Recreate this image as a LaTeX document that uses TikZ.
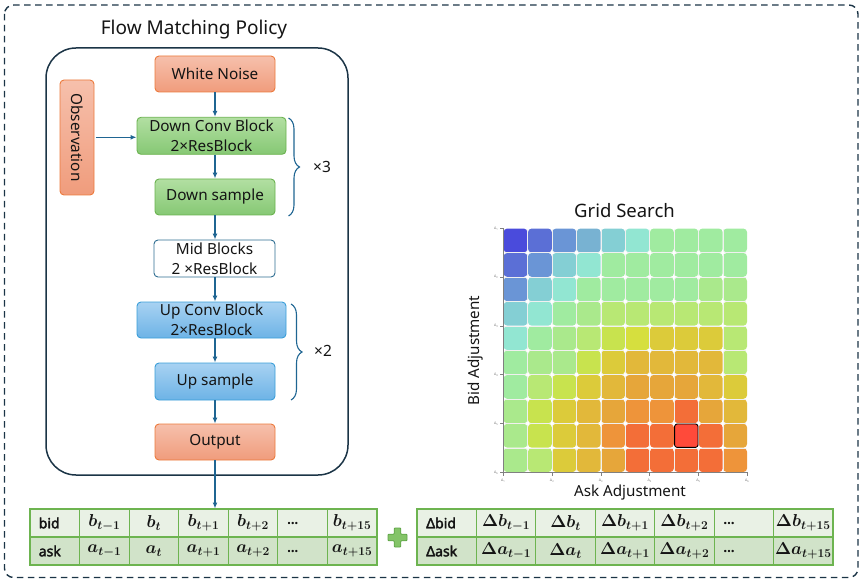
\documentclass[tikz,border=0pt]{standalone}
\usepackage[no-math]{fontspec}
\setmainfont{Noto Sans}
\newfontfamily\heavysans{Noto Sans}[FakeBold=2.6]
\usepackage{amsmath}
\usetikzlibrary{arrows.meta,decorations.pathreplacing}
\definecolor{navy}{HTML}{1B3446}
\definecolor{arr}{HTML}{1F6592}
\definecolor{txt}{HTML}{141414}
\definecolor{salT}{HTML}{F6C0AC}
\definecolor{salB}{HTML}{F09C7C}
\definecolor{salD}{HTML}{EC7A3C}
\definecolor{grnT}{HTML}{B2DFA2}
\definecolor{grnB}{HTML}{86C874}
\definecolor{grnD}{HTML}{6AB24E}
\definecolor{bluT}{HTML}{A8D2F2}
\definecolor{bluB}{HTML}{6DB3E6}
\definecolor{bluD}{HTML}{3A9ED8}
\definecolor{midD}{HTML}{2F6E92}
\definecolor{tbA}{HTML}{E9F1E5}
\definecolor{tbB}{HTML}{D1E3C9}
\definecolor{tbD}{HTML}{6DB450}
\definecolor{plusF}{HTML}{84C468}
\definecolor{plusD}{HTML}{5FA547}
\definecolor{gcB1}{HTML}{4A4BDC}
\definecolor{gcB2}{HTML}{5B6FD6}
\definecolor{gcB3}{HTML}{6A95D6}
\definecolor{gcB4}{HTML}{78B2D2}
\definecolor{gcC1}{HTML}{84CFD4}
\definecolor{gcC2}{HTML}{92E6D2}
\definecolor{gcG1}{HTML}{A0EBA0}
\definecolor{gcG2}{HTML}{AAE98C}
\definecolor{gcG3}{HTML}{B8E874}
\definecolor{gcY1}{HTML}{C8E34E}
\definecolor{gcY2}{HTML}{D6DF3E}
\definecolor{gcY3}{HTML}{DCCB3A}
\definecolor{gcO1}{HTML}{E2B83A}
\definecolor{gcO2}{HTML}{E6A63A}
\definecolor{gcO3}{HTML}{EE943A}
\definecolor{gcR1}{HTML}{F36E38}
\definecolor{gcRS}{HTML}{FF4A3A}
\begin{document}
\begin{tikzpicture}[x=1pt,y=-1pt,
  every node/.style={text=txt},
  boxfont/.style={font=\fontsize{15.3}{20}\selectfont, align=center, inner sep=0pt},
  salbox/.style={boxfont, draw=salD, line width=0.9pt, rounded corners=4pt, top color=salT, bottom color=salB},
  grnbox/.style={boxfont, draw=grnD, line width=0.9pt, rounded corners=4pt, top color=grnT, bottom color=grnB},
  blubox/.style={boxfont, draw=bluD, line width=0.9pt, rounded corners=4pt, top color=bluT, bottom color=bluB},
  midbox/.style={boxfont, draw=midD, line width=0.9pt, rounded corners=4pt, fill=white},
  flow/.style={arr, line width=1.2pt, -{Latex[length=6pt,width=5pt]}},
  bracepath/.style={arr, line width=1.1pt, decorate, decoration={brace, amplitude=11pt}},
  axlabel/.style={font=\fontsize{15.2}{18}\selectfont},
  ticklab/.style={font=\fontsize{3.6}{3.6}\selectfont, text=gray, inner sep=0pt},
  tcell/.style={draw=tbD, line width=1.1pt, minimum height=28pt, inner sep=0pt, anchor=center},
  lcol/.style={tcell, minimum width=49.57pt},
  rcol/.style={tcell, minimum width=59.43pt},
  rowA/.style={fill=tbA},
  rowB/.style={fill=tbB},
  mth/.style={font=\fontsize{16.8}{20}\selectfont\boldmath},
  lbl/.style={font=\fontsize{14}{16}\heavysans, align=left}
]
\useasboundingbox (0,0) rectangle (864,585);

% outer dashed frame and inner policy frame
\draw[navy, line width=1.4pt, dash pattern=on 6.5pt off 4.5pt, rounded corners=9pt] (4.5,5) rectangle (858,577.5);
\draw[navy, line width=1.5pt, rounded corners=30pt] (46,48) rectangle (348,475);
\node[font=\fontsize{19}{22}\selectfont] (title) at (194,30) {Flow Matching Policy};

% policy blocks
\node[salbox, minimum width=120pt, minimum height=36pt] (wn) at (215,74) {White Noise};
\node[salbox, minimum width=115pt, minimum height=34pt, rotate=-90] (obs) at (77,137.5) {Observation};
\node[grnbox, minimum width=149pt, minimum height=37pt] (dcb) at (211.5,135.8) {Down Conv Block\\2×ResBlock};
\node[grnbox, minimum width=120pt, minimum height=36pt] (ds) at (215,197) {Down sample};
\node[midbox, minimum width=121pt, minimum height=37pt] (mid) at (214.5,258.5) {Mid Blocks\\2 ×ResBlock};
\node[blubox, minimum width=149pt, minimum height=36pt] (ucb) at (211.5,320) {Up Conv Block\\2×ResBlock};
\node[blubox, minimum width=120pt, minimum height=37pt] (us) at (215,381.5) {Up sample};
\node[salbox, minimum width=120pt, minimum height=36pt] (out) at (215,442) {Output};
\coordinate (tabtop) at (215,508.5);

\draw[flow] (wn.south) -- (wn.south |- dcb.north);
\draw[flow] (wn.south |- dcb.south) -- (ds.north);
\draw[flow] (ds.south) -- (ds.south |- mid.north);
\draw[flow] (ds.south |- mid.south) -- (ds.south |- ucb.north);
\draw[flow] (ds.south |- ucb.south) -- (us.north);
\draw[flow] (us.south) -- (out.north);
\draw[flow] (out.south) -- (tabtop);
\draw[flow] ([xshift=1.5pt]obs.north |- 0,137.3) -- (dcb.west |- 0,137.3);

% braces
\draw[bracepath] (288.5,118) -- (288.5,216);
\node[font=\fontsize{15.5}{18}\selectfont] (x3) at (322,167) {×3};
\draw[bracepath] (291,304) -- (291,400);
\node[font=\fontsize{15.5}{18}\selectfont] (x2) at (323,351) {×2};

% grid search
\node[font=\fontsize{18.5}{22}\selectfont] (gtitle) at (624.5,211) {Grid Search};
\foreach \row [count=\r from 0] in {
  {B1,B2,B3,B4,C1,C2,G1,G1,G1,G1},
  {B2,B3,C1,C2,G1,G1,G1,G1,G1,G1},
  {B3,C1,C2,G1,G1,G1,G1,G1,G2,G2},
  {C1,C2,G1,G2,G3,G3,G3,G3,G3,G3},
  {C2,G1,G2,G3,Y1,Y2,Y3,Y3,Y3,G3},
  {G1,G2,G2,Y1,Y3,O1,O1,O1,O1,G3},
  {G1,G3,Y1,Y3,O1,O2,O2,O2,O1,Y3},
  {G2,Y1,Y3,O1,O2,O3,O3,R1,O2,O1},
  {G2,Y1,Y3,O1,O3,R1,R1,RS,R1,O2},
  {G2,G3,Y3,O1,O2,R1,R1,R1,R1,O3}} {
  \foreach \c [count=\k from 0] in \row {
    \fill[gc\c, rounded corners=3.5pt] ({503.3+24.4*\k+0.3},{228.3+24.4*\r+0.3}) rectangle ({503.3+24.4*\k+24.1},{228.3+24.4*\r+24.1});
  }
}
\foreach \i in {1,...,9} {
  \draw[white!88!gray, line width=0.6pt] ({503.3+24.4*\i},228.3) -- ({503.3+24.4*\i},472.3);
  \draw[white!88!gray, line width=0.6pt] (503.3,{228.3+24.4*\i}) -- (747.3,{228.3+24.4*\i});
}
\draw[black, line width=0.9pt, fill=gcRS, rounded corners=2.5pt] ({503.3+24.4*7+0.5},{228.3+24.4*8+0.5}) rectangle ({503.3+24.4*8-0.5},{228.3+24.4*9-0.5});
\foreach \i in {1,...,9} {
  \foreach \j in {0,...,10} {
    \fill[white] ({503.3+24.4*\i},{228.3+24.4*\j}) circle (1.5pt);
    \fill[white] ({503.3+24.4*\j},{228.3+24.4*\i}) circle (1.5pt);
  }
}
\draw[gray, line width=0.6pt] (503.3,228.3) -- (503.3,472.3) -- (747.3,472.3);
\foreach \n [count=\t from 0] in {1,...,6} {
  \draw[gray, line width=0.6pt] (503.3,{228.3+48.8*\t}) -- (499.8,{228.3+48.8*\t});
  \node[ticklab, anchor=east] at (498.5,{228.3+48.8*\t}) {Δ\textsubscript{\n}};
  \draw[gray, line width=0.6pt] ({503.3+48.8*\t},472.3) -- ({503.3+48.8*\t},475.8);
  \node[ticklab, anchor=north] at ({503.3+48.8*\t},478.5) {Δ\textsubscript{\n}};
}
\node[axlabel, rotate=90] (ylab) at (476,350.5) {Bid Adjustment};
\node[axlabel] (xlab) at (630,492.5) {Ask Adjustment};

% left table
\node[lcol, rowA] (L00) at (54.8,523) {}; \node[lbl, text width=32pt] at (L00) {bid};
\node[lcol, rowA, mth] (L01) at (104.4,523) {$b_{t-1}$};
\node[lcol, rowA, mth] (L02) at (153.9,523) {$b_{t}$};
\node[lcol, rowA, mth] (L03) at (203.5,523) {$b_{t+1}$};
\node[lcol, rowA, mth] (L04) at (253.1,523) {$b_{t+2}$};
\node[lcol, rowA] (L05) at (302.6,523) {}; \node[lbl, text width=31pt] at (L05) {…};
\node[lcol, rowA, mth] (L06) at (352.2,523) {$b_{t+15}$};
\node[lcol, rowB] (L10) at (54.8,551) {}; \node[lbl, text width=32pt] at (L10) {ask};
\node[lcol, rowB, mth] (L11) at (104.4,551) {$a_{t-1}$};
\node[lcol, rowB, mth] (L12) at (153.9,551) {$a_{t}$};
\node[lcol, rowB, mth] (L13) at (203.5,551) {$a_{t+1}$};
\node[lcol, rowB, mth] (L14) at (253.1,551) {$a_{t+2}$};
\node[lcol, rowB] (L15) at (302.6,551) {}; \node[lbl, text width=31pt] at (L15) {…};
\node[lcol, rowB, mth] (L16) at (352.2,551) {$a_{t+15}$};

% plus
\filldraw[fill=plusF, draw=plusD, line width=0.8pt, rounded corners=0.8pt]
  (394.2,528) -- (400.8,528) -- (400.8,534.2) -- (407,534.2) -- (407,540.8) -- (400.8,540.8)
  -- (400.8,547) -- (394.2,547) -- (394.2,540.8) -- (388,540.8) -- (388,534.2) -- (394.2,534.2) -- cycle;

% right table
\node[rcol, rowA] (R00) at (446.7,523) {}; \node[lbl, text width=41pt] at (R00) {Δbid};
\node[rcol, rowA, mth] (R01) at (506.1,523) {$\Delta b_{t-1}$};
\node[rcol, rowA, mth] (R02) at (565.6,523) {$\Delta b_{t}$};
\node[rcol, rowA, mth] (R03) at (625.0,523) {$\Delta b_{t+1}$};
\node[rcol, rowA, mth] (R04) at (684.4,523) {$\Delta b_{t+2}$};
\node[rcol, rowA] (R05) at (743.9,523) {}; \node[lbl, text width=41pt] at (R05) {…};
\node[rcol, rowA, mth] (R06) at (803.3,523) {$\Delta b_{t+15}$};
\node[rcol, rowB] (R10) at (446.7,551) {}; \node[lbl, text width=41pt] at (R10) {Δask};
\node[rcol, rowB, mth] (R11) at (506.1,551) {$\Delta a_{t-1}$};
\node[rcol, rowB, mth] (R12) at (565.6,551) {$\Delta a_{t}$};
\node[rcol, rowB, mth] (R13) at (625.0,551) {$\Delta a_{t+1}$};
\node[rcol, rowB, mth] (R14) at (684.4,551) {$\Delta a_{t+2}$};
\node[rcol, rowB] (R15) at (743.9,551) {}; \node[lbl, text width=41pt] at (R15) {…};
\node[rcol, rowB, mth] (R16) at (803.3,551) {$\Delta a_{t+15}$};
\end{tikzpicture}
\end{document}
